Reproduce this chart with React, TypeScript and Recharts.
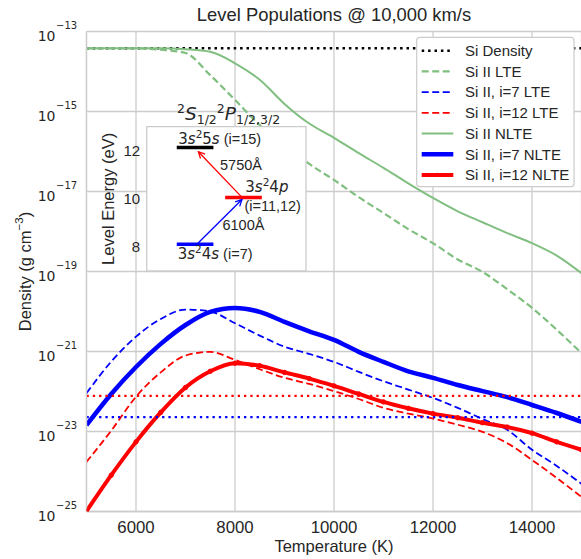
import React from 'react';
import {
  LineChart,
  Line,
  XAxis,
  YAxis,
  CartesianGrid,
  ReferenceLine,
  ReferenceArea,
  ReferenceDot,
  Label,
} from 'recharts';

// ---- main panel data (density in g cm^-3) ----
const temperatures = [5000, 5500, 6000, 6500, 7000, 7500, 8000, 8500, 9000, 9500, 10000, 10500, 11000, 11500, 12000, 12500, 13000, 13500, 14000, 14500, 15000];
const siIILte = [3.8e-14, 3.8e-14, 3.8e-14, 3.5e-14, 2.9e-14, 8.1e-15, 1.95e-15, 4.6e-16, 1.55e-16, 4.9e-17, 1.95e-17, 7.2e-18, 2.9e-18, 1.15e-18, 5.1e-19, 2.0e-19, 9.8e-20, 3.6e-20, 1.23e-20, 3.5e-21, 9.1e-22];
const level7Lte = [9.1e-23, 5.6e-22, 2.35e-21, 6.5e-21, 1.12e-20, 1.0e-20, 5.1e-21, 2.5e-21, 1.32e-21, 8.7e-22, 5.5e-22, 3.1e-22, 1.8e-22, 1.12e-22, 6.9e-23, 3.9e-23, 2.05e-23, 1.1e-23, 3.5e-24, 1.38e-24, 4.9e-25];
const level12Lte = [1.74e-24, 1.05e-23, 7.4e-23, 3.0e-22, 7.9e-22, 9.8e-22, 6.2e-22, 3.6e-22, 2.2e-22, 1.55e-22, 1.02e-22, 6.5e-23, 3.9e-23, 2.8e-23, 2.1e-23, 1.48e-23, 9.8e-24, 5.1e-24, 1.95e-24, 6.9e-25, 2.3e-25];
const siIINlte = [3.8e-14, 3.8e-14, 3.8e-14, 3.8e-14, 3.6e-14, 3.1e-14, 1.6e-14, 6.2e-15, 1.55e-15, 5.0e-16, 2.2e-16, 9.1e-17, 3.9e-17, 1.6e-17, 6.9e-18, 3.2e-18, 1.7e-18, 9.1e-19, 5.1e-19, 2.5e-19, 9.1e-20];
const level7Nlte = [1.45e-23, 8.7e-23, 4.1e-22, 1.55e-21, 4.6e-21, 9.8e-21, 1.23e-20, 9.8e-21, 5.5e-21, 3.2e-21, 1.95e-21, 9.8e-22, 5.5e-22, 3.2e-22, 2.2e-22, 1.45e-22, 1.02e-22, 7.2e-23, 4.6e-23, 2.9e-23, 1.74e-23];
const level12Nlte = [1.02e-25, 8.1e-25, 5.5e-24, 3.0e-23, 1.26e-22, 3.2e-22, 5.1e-22, 4.4e-22, 3.0e-22, 2.1e-22, 1.38e-22, 8.7e-23, 5.5e-23, 3.8e-23, 2.8e-23, 2.2e-23, 1.66e-23, 1.29e-23, 9.1e-24, 5.5e-24, 3.5e-24];

const siDensity = 3.8e-14;
const level7Limit = 2.3e-23;
const level12Limit = 7.8e-23;

const xTicks = [6000, 8000, 10000, 12000, 14000];
const yTicks = [1e-25, 1e-23, 1e-21, 1e-19, 1e-17, 1e-15, 1e-13];

// ---- inset: level diagram (energy in eV) ----
const energyTicks = [8, 10, 12];
const level4s = [{ x: 1.0, e: 8.11 }, { x: 2.22, e: 8.11 }];
const level4p = [{ x: 2.61, e: 10.06 }, { x: 3.83, e: 10.06 }];
const level5s = [{ x: 1.0, e: 12.13 }, { x: 2.22, e: 12.13 }];
const arrow6100 = [{ x: 1.67, e: 8.11 }, { x: 3.17, e: 9.97 }];
const arrow5750 = [{ x: 3.17, e: 10.06 }, { x: 1.72, e: 11.96 }];

const rows = temperatures.map((t, i) => ({
  t,
  siIILte: siIILte[i],
  level7Lte: level7Lte[i],
  level12Lte: level12Lte[i],
  siIINlte: siIINlte[i],
  level7Nlte: level7Nlte[i],
  level12Nlte: level12Nlte[i],
}));

const SANS = '"Liberation Sans", Arial, sans-serif';
const MATH = '"DejaVu Sans", sans-serif';
const INK = '#262626';
const GRID = '#cccccc';
const GREEN = '#80bf80';

const legendRows = [
  { name: 'Si Density', color: '#000000', width: 2.5, dash: '2.5 3.9' },
  { name: 'Si II LTE', color: GREEN, width: 2.2, dash: '7 3.5' },
  { name: 'Si II, i=7 LTE', color: '#0000ff', width: 1.8, dash: '7 3.5' },
  { name: 'Si II, i=12 LTE', color: '#ff0000', width: 1.8, dash: '7 3.5' },
  { name: 'Si II NLTE', color: GREEN, width: 2, dash: undefined },
  { name: 'Si II, i=7 NLTE', color: '#0000ff', width: 4.5, dash: undefined },
  { name: 'Si II, i=12 NLTE', color: '#ff0000', width: 4, dash: undefined },
];

const DensityTick = (props: any) => {
  const { x, y, payload } = props;
  const exp = Math.round(Math.log10(payload.value));
  return (
    <g>
      <text x={x - 29} y={y + 9.5} textAnchor="end" fontSize={14} fontFamily={MATH} fill={INK}>10</text>
      <text x={x - 28.5} y={y - 2.5} fontSize={10} fontFamily={MATH} fill={INK}>{'\u2212' + Math.abs(exp)}</text>
    </g>
  );
};

const TempTick = (props: any) => {
  const { x, y, payload } = props;
  return (
    <text x={x} y={y + 19} textAnchor="middle" fontSize={16.8} fontFamily={SANS} fill={INK}>{payload.value}</text>
  );
};

const EnergyTick = (props: any) => {
  const { x, y, payload } = props;
  return (
    <text x={x} y={y + 5} textAnchor="end" fontSize={15} fontFamily={SANS} fill={INK}>{payload.value}</text>
  );
};

const DensityLabel = (props: any) => {
  const vb = props.viewBox;
  const cx = vb.x + 25;
  const cy = vb.y + vb.height / 2;
  return (
    <text x={cx} y={cy} transform={`rotate(-90 ${cx} ${cy})`} textAnchor="middle" dominantBaseline="central" fontSize={16.5} fontFamily={SANS} fill={INK}>
      Density (g cm<tspan dy={-6} fontSize={11.5}>{'\u22123'}</tspan><tspan dy={6}>)</tspan>
    </text>
  );
};

const TempLabel = (props: any) => {
  const vb = props.viewBox;
  return (
    <text x={vb.x + vb.width / 2} y={vb.y + 40.5} textAnchor="middle" fontSize={16.5} fontFamily={SANS} fill={INK}>
      Temperature (K)
    </text>
  );
};

const EnergyLabel = (props: any) => {
  const vb = props.viewBox;
  const cx = vb.x + 20;
  const cy = vb.y + vb.height / 2;
  return (
    <text x={cx} y={cy} transform={`rotate(-90 ${cx} ${cy})`} textAnchor="middle" dominantBaseline="central" fontSize={16.5} fontFamily={SANS} fill={INK}>
      Level Energy (eV)
    </text>
  );
};

// configuration text like 3s^2 4p, with the italic letters in math font
const Config = ({ n2, l2, tail }: { n2: string; l2: string; tail?: string }) => (
  <>
    <tspan fontFamily={MATH} fontSize={15}>3</tspan>
    <tspan fontFamily={MATH} fontSize={15} fontStyle="italic">s</tspan>
    <tspan fontFamily={MATH} fontSize={10.5} dy={-6}>2</tspan>
    <tspan fontFamily={MATH} fontSize={15} dy={6}>{n2}</tspan>
    <tspan fontFamily={MATH} fontSize={15} fontStyle="italic">{l2}</tspan>
    {tail ? <tspan fontFamily={SANS}>{tail}</tspan> : null}
  </>
);

const note = (content: React.ReactNode) => (p: any) => (
  <text x={p.cx} y={p.cy} fontSize={14.5} fontFamily={SANS} fill={INK}>{content}</text>
);

const Inset = () => (
  <LineChart width={220} height={153} margin={{ top: 6.7, right: 2, bottom: 2, left: 0 }}>
    <XAxis type="number" dataKey="x" domain={[0, 5.3]} hide allowDataOverflow />
    <YAxis
      type="number"
      domain={[7, 13]}
      ticks={energyTicks}
      interval={0}
      width={58.7}
      tickSize={0}
      tickMargin={6.5}
      tickLine={false}
      axisLine={false}
      tick={<EnergyTick />}
      allowDataOverflow
    >
      <Label content={<EnergyLabel />} />
    </YAxis>
    <ReferenceArea x1={0} x2={5.3} y1={7} y2={13} fill="#ffffff" fillOpacity={1} stroke={GRID} strokeWidth={1.3} />
    <Line data={level4s} dataKey="e" stroke="#0000ff" strokeWidth={3.5} dot={false} isAnimationActive={false} />
    <Line data={level4p} dataKey="e" stroke="#ff0000" strokeWidth={3.5} dot={false} isAnimationActive={false} />
    <Line data={level5s} dataKey="e" stroke="#000000" strokeWidth={3.5} dot={false} isAnimationActive={false} />
    <Line data={arrow6100} dataKey="e" stroke="#0000ff" strokeWidth={1.3} dot={false} markerEnd="url(#headBlue)" isAnimationActive={false} />
    <Line data={arrow5750} dataKey="e" stroke="#ff0000" strokeWidth={1.3} dot={false} markerEnd="url(#headRed)" isAnimationActive={false} />
    <ReferenceDot x={1.05} y={12.28} r={0} ifOverflow="visible" shape={note(<Config n2="5" l2="s" tail=" (i=15)" />)} />
    <ReferenceDot x={2.44} y={11.22} r={0} ifOverflow="visible" shape={note('5750Å')} />
    <ReferenceDot x={3.28} y={10.3} r={0} ifOverflow="visible" shape={note(<Config n2="4" l2="p" />)} />
    <ReferenceDot x={3.25} y={9.49} r={0} ifOverflow="visible" shape={note('(i=11,12)')} />
    <ReferenceDot x={2.52} y={8.7} r={0} ifOverflow="visible" shape={note('6100Å')} />
    <ReferenceDot x={1.03} y={7.51} r={0} ifOverflow="visible" shape={note(<Config n2="4" l2="s" tail=" (i=7)" />)} />
  </LineChart>
);

export default function App() {
  return (
    <div style={{ position: 'absolute', left: 0, top: 0, width: 581, height: 559, overflow: 'hidden', background: '#fff' }}>
      <svg width={0} height={0} style={{ position: 'absolute' }}>
        <defs>
          <marker id="headBlue" viewBox="0 0 10 10" refX={9} refY={5} markerWidth={8} markerHeight={8} markerUnits="userSpaceOnUse" orient="auto">
            <path d="M1,1 L9,5 L1,9" fill="none" stroke="#0000ff" strokeWidth={1.6} />
          </marker>
          <marker id="headRed" viewBox="0 0 10 10" refX={9} refY={5} markerWidth={8} markerHeight={8} markerUnits="userSpaceOnUse" orient="auto">
            <path d="M1,1 L9,5 L1,9" fill="none" stroke="#ff0000" strokeWidth={1.6} />
          </marker>
        </defs>
      </svg>

      <div style={{ position: 'absolute', left: 0, top: 0 }}>
        <LineChart width={582} height={559} data={rows} margin={{ top: 31.5, right: 0.5, bottom: 0, left: 0 }}>
          <CartesianGrid stroke={GRID} strokeWidth={1.3} />
          <XAxis
            type="number"
            dataKey="t"
            domain={[5000, 15000]}
            ticks={xTicks}
            interval={0}
            height={47.5}
            tickSize={0}
            tickLine={false}
            axisLine={{ stroke: GRID, strokeWidth: 1.3 }}
            tick={<TempTick />}
            allowDataOverflow
          >
            <Label content={<TempLabel />} />
          </XAxis>
          <YAxis
            type="number"
            scale="log"
            domain={[1e-25, 1e-13]}
            ticks={yTicks}
            interval={0}
            width={86.5}
            tickSize={0}
            tickLine={false}
            axisLine={{ stroke: GRID, strokeWidth: 1.3 }}
            tick={<DensityTick />}
            allowDataOverflow
          >
            <Label content={<DensityLabel />} />
          </YAxis>
          <ReferenceLine y={siDensity} stroke="#000000" strokeWidth={2.5} strokeDasharray="2.5 3.9" />
          <Line type="monotone" dataKey="siIILte" stroke={GREEN} strokeWidth={2.2} strokeDasharray="7 3.5" dot={false} isAnimationActive={false} />
          <Line type="monotone" dataKey="level7Lte" stroke="#0000ff" strokeWidth={1.8} strokeDasharray="7 3.5" dot={false} isAnimationActive={false} />
          <Line type="monotone" dataKey="level12Lte" stroke="#ff0000" strokeWidth={1.8} strokeDasharray="7 3.5" dot={false} isAnimationActive={false} />
          <Line type="monotone" dataKey="siIINlte" stroke={GREEN} strokeWidth={2} dot={false} isAnimationActive={false} />
          <Line type="monotone" dataKey="level7Nlte" stroke="#0000ff" strokeWidth={4.5} dot={false} isAnimationActive={false} />
          <Line
            type="monotone"
            dataKey="level12Nlte"
            stroke="#ff0000"
            strokeWidth={4}
            dot={{ r: 2.2, fill: '#ff0000', stroke: '#ff0000', strokeWidth: 1 }}
            isAnimationActive={false}
          />
          <ReferenceLine y={level12Limit} stroke="#ff0000" strokeWidth={2.3} strokeDasharray="2.3 4" />
          <ReferenceLine y={level7Limit} stroke="#0000ff" strokeWidth={2.3} strokeDasharray="2.3 4" />
        </LineChart>
      </div>

      <div style={{ position: 'absolute', left: 88, top: 120 }}>
        <Inset />
      </div>

      <svg width={581} height={559} style={{ position: 'absolute', left: 0, top: 0, pointerEvents: 'none' }}>
        <text x={334} y={21} textAnchor="middle" fontSize={18.4} fontFamily={SANS} fill={INK}>
          Level Populations @ 10,000 km/s
        </text>
        <text x={177} y={120} fontSize={18.5} fontFamily={MATH} fill={INK}>
          <tspan fontSize={12.5} dy={-7}>2</tspan>
          <tspan fontStyle="italic" dy={7}>S</tspan>
          <tspan fontSize={12.5} dy={4}>1/2</tspan>
          <tspan fontSize={12.5} dy={-11}>2</tspan>
          <tspan fontStyle="italic" dy={7}>P</tspan>
          <tspan fontSize={12.5} dy={4}>1/2,3/2</tspan>
        </text>
        <g>
          <rect x={416.7} y={37.3} width={157.3} height={149.4} rx={3} fill="#ffffff" stroke={GRID} strokeWidth={1.2} />
          {legendRows.map((r, i) => {
            const cy = 50.7 + i * 20.7;
            return (
              <g key={r.name}>
                <line x1={421.7} x2={453.3} y1={cy} y2={cy} stroke={r.color} strokeWidth={r.width} strokeDasharray={r.dash} />
                {i === 6 ? <circle cx={437.5} cy={cy} r={2.2} fill="#ff0000" /> : null}
                <text x={465} y={cy + 5.3} fontSize={15} fontFamily={SANS} fill={INK}>{r.name}</text>
              </g>
            );
          })}
        </g>
      </svg>
    </div>
  );
}
